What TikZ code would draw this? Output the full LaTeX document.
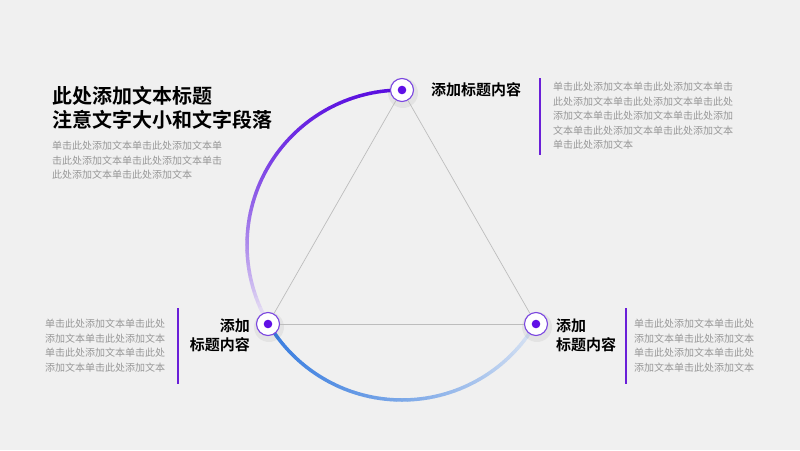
\documentclass[tikz,border=0pt]{standalone}
\usepackage{fontspec}
\setmainfont{Noto Sans CJK SC}[BoldFont={Noto Sans CJK SC Bold}]
\definecolor{bgC}{HTML}{F0F0F0}
\definecolor{arcP}{HTML}{5A0FE0}
\definecolor{arcL}{HTML}{ECE8F4}
\definecolor{arcB}{HTML}{3A7EE0}
\definecolor{arcBL}{HTML}{DCE5F3}
\definecolor{ringC}{HTML}{7A45E0}
\definecolor{dotC}{HTML}{6010E6}
\definecolor{barC}{HTML}{6A1FD8}
\definecolor{bodyC}{HTML}{979797}
\definecolor{triC}{HTML}{BDBDBD}
\tikzset{
  dotnode/.style={circle, draw=ringC, line width=1.1pt, fill=white, minimum size=23pt, inner sep=0pt},
  bodytext/.style={font=\fontsize{10}{14.5}\selectfont, text=bodyC, inner sep=0pt, anchor=north west, align=left},
  labeltext/.style={font=\fontsize{15}{19}\selectfont\bfseries, text=black, inner sep=0pt},
  bar/.style={draw=barC, line width=2pt},
  tri/.style={draw=triC, line width=0.7pt}
}
\begin{document}
\begin{tikzpicture}[x=1pt,y=-1pt]
\useasboundingbox (0,0) rectangle (800,450);
\fill[bgC] (0,0) rectangle (800,450);

% gradient arcs
\foreach \i in {0,...,59}{
  \pgfmathsetmacro{\aa}{90+2*\i}
  \pgfmathsetmacro{\ab}{92+2*\i}
  \pgfmathsetmacro{\pc}{100-100*((\i/59)^2)}
  \draw[line width=3.5pt, line cap=round, color=arcP!\pc!arcL]
    ({402+155*cos(\aa)},{245-155*sin(\aa)}) -- ({402+155*cos(\ab)},{245-155*sin(\ab)});
}
\foreach \i in {0,...,59}{
  \pgfmathsetmacro{\aa}{210+2*\i}
  \pgfmathsetmacro{\ab}{212+2*\i}
  \pgfmathsetmacro{\pc}{100-100*((\i/59)^1.3)}
  \draw[line width=3.5pt, line cap=round, color=arcB!\pc!arcBL]
    ({402+155*cos(\aa)},{245-155*sin(\aa)}) -- ({402+155*cos(\ab)},{245-155*sin(\ab)});
}

% shadows
\foreach \p in {(402,90),(268,324),(536,324)}{
  \fill[black, opacity=0.05] \p ++(1,3) circle (15pt);
}

% nodes
\node[dotnode] (top) at (402,90) {};
\node[dotnode] (bl) at (268,324) {};
\node[dotnode] (br) at (536,324) {};

% triangle
\draw[tri] (top) -- (bl);
\draw[tri] (bl) -- (br);
\draw[tri] (br) -- (top);

\foreach \n in {top,bl,br}{
  \fill[dotC] (\n) circle (4.3pt);
}

% title
\node[font=\fontsize{20}{24}\selectfont\bfseries, text=black, inner sep=0pt, anchor=north west, align=left] (title) at (52,86)
  {此处添加文本标题\\注意文字大小和文字段落};
\node[bodytext] (titlebody) at (52,141)
  {单击此处添加文本单击此处添加文本单\\击此处添加文本单击此处添加文本单击\\此处添加文本单击此处添加文本};

% top label
\node[labeltext, anchor=west] (toplabel) at (431,90) {添加标题内容};
\coordinate (b1a) at (540,78);
\coordinate (b1b) at (540,155);
\draw[bar] (b1a) -- (b1b);
\node[bodytext] (topbody) at (553,82)
  {单击此处添加文本单击此处添加文本单击\\此处添加文本单击此处添加文本单击此处\\添加文本单击此处添加文本单击此处添加\\文本单击此处添加文本单击此处添加文本\\单击此处添加文本};

% left label
\node[labeltext, anchor=north east, align=right] (bllabel) at (250,319)
  {添加\\标题内容};
\coordinate (b2a) at (178,308);
\coordinate (b2b) at (178,384);
\draw[bar] (b2a) -- (b2b);
\node[bodytext] (blbody) at (45,319)
  {单击此处添加文本单击此处\\添加文本单击此处添加文本\\单击此处添加文本单击此处\\添加文本单击此处添加文本};

% right label
\node[labeltext, anchor=north west, align=left] (brlabel) at (556,319)
  {添加\\标题内容};
\coordinate (b3a) at (626,308);
\coordinate (b3b) at (626,384);
\draw[bar] (b3a) -- (b3b);
\node[bodytext] (brbody) at (634,319)
  {单击此处添加文本单击此处\\添加文本单击此处添加文本\\单击此处添加文本单击此处\\添加文本单击此处添加文本};
\end{tikzpicture}
\end{document}
